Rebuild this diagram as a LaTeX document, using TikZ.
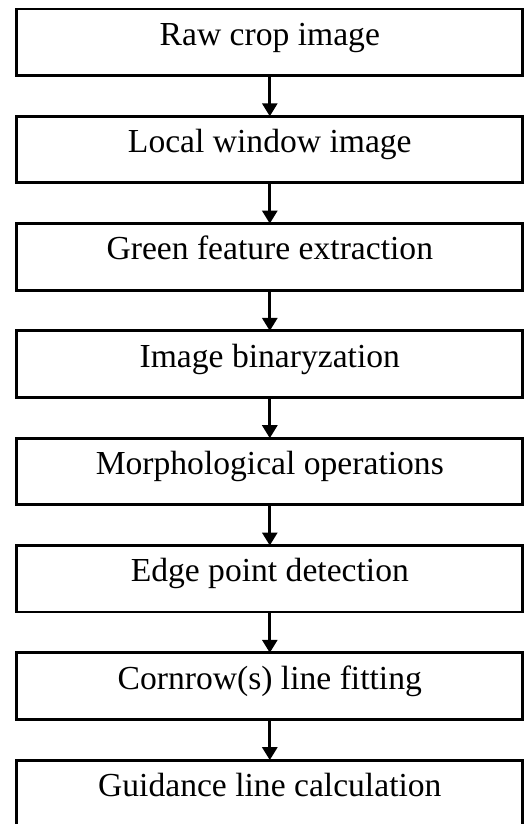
\documentclass[tikz,border=0pt]{standalone}
\usepackage{fontspec}
\setmainfont{Liberation Serif}
\usetikzlibrary{positioning,arrows.meta}

\begin{document}
\begin{tikzpicture}[x=1pt,y=1pt,
  stepbox/.style={rectangle, draw, line width=2.9pt, outer sep=0pt, inner sep=0pt,
    minimum width=506pt, minimum height=66.5pt, text height=24pt, text depth=18pt,
    font=\fontsize{33.6}{40}\selectfont},
  flow/.style={-{Triangle[length=13pt,width=15pt]}, line width=2.9pt},
  node distance=40.8pt]
  \useasboundingbox (0,0) rectangle (525,-824);
  \node[stepbox] (raw) at (269.8,-42.25) {Raw crop image};
  \node[stepbox, below=of raw] (window) {Local window image};
  \node[stepbox, below=of window] (green) {Green feature extraction};
  \node[stepbox, below=of green] (binary) {Image binaryzation};
  \node[stepbox, below=of binary] (morph) {Morphological operations};
  \node[stepbox, below=of morph] (edge) {Edge point detection};
  \node[stepbox, below=of edge] (fit) {Cornrow(s) line fitting};
  \node[stepbox, below=of fit] (guide) {Guidance line calculation};
  \foreach \a/\b in {raw/window, window/green, green/binary, binary/morph,
                     morph/edge, edge/fit, fit/guide}
    \draw[flow] (\a) -- (\b);
\end{tikzpicture}
\end{document}
